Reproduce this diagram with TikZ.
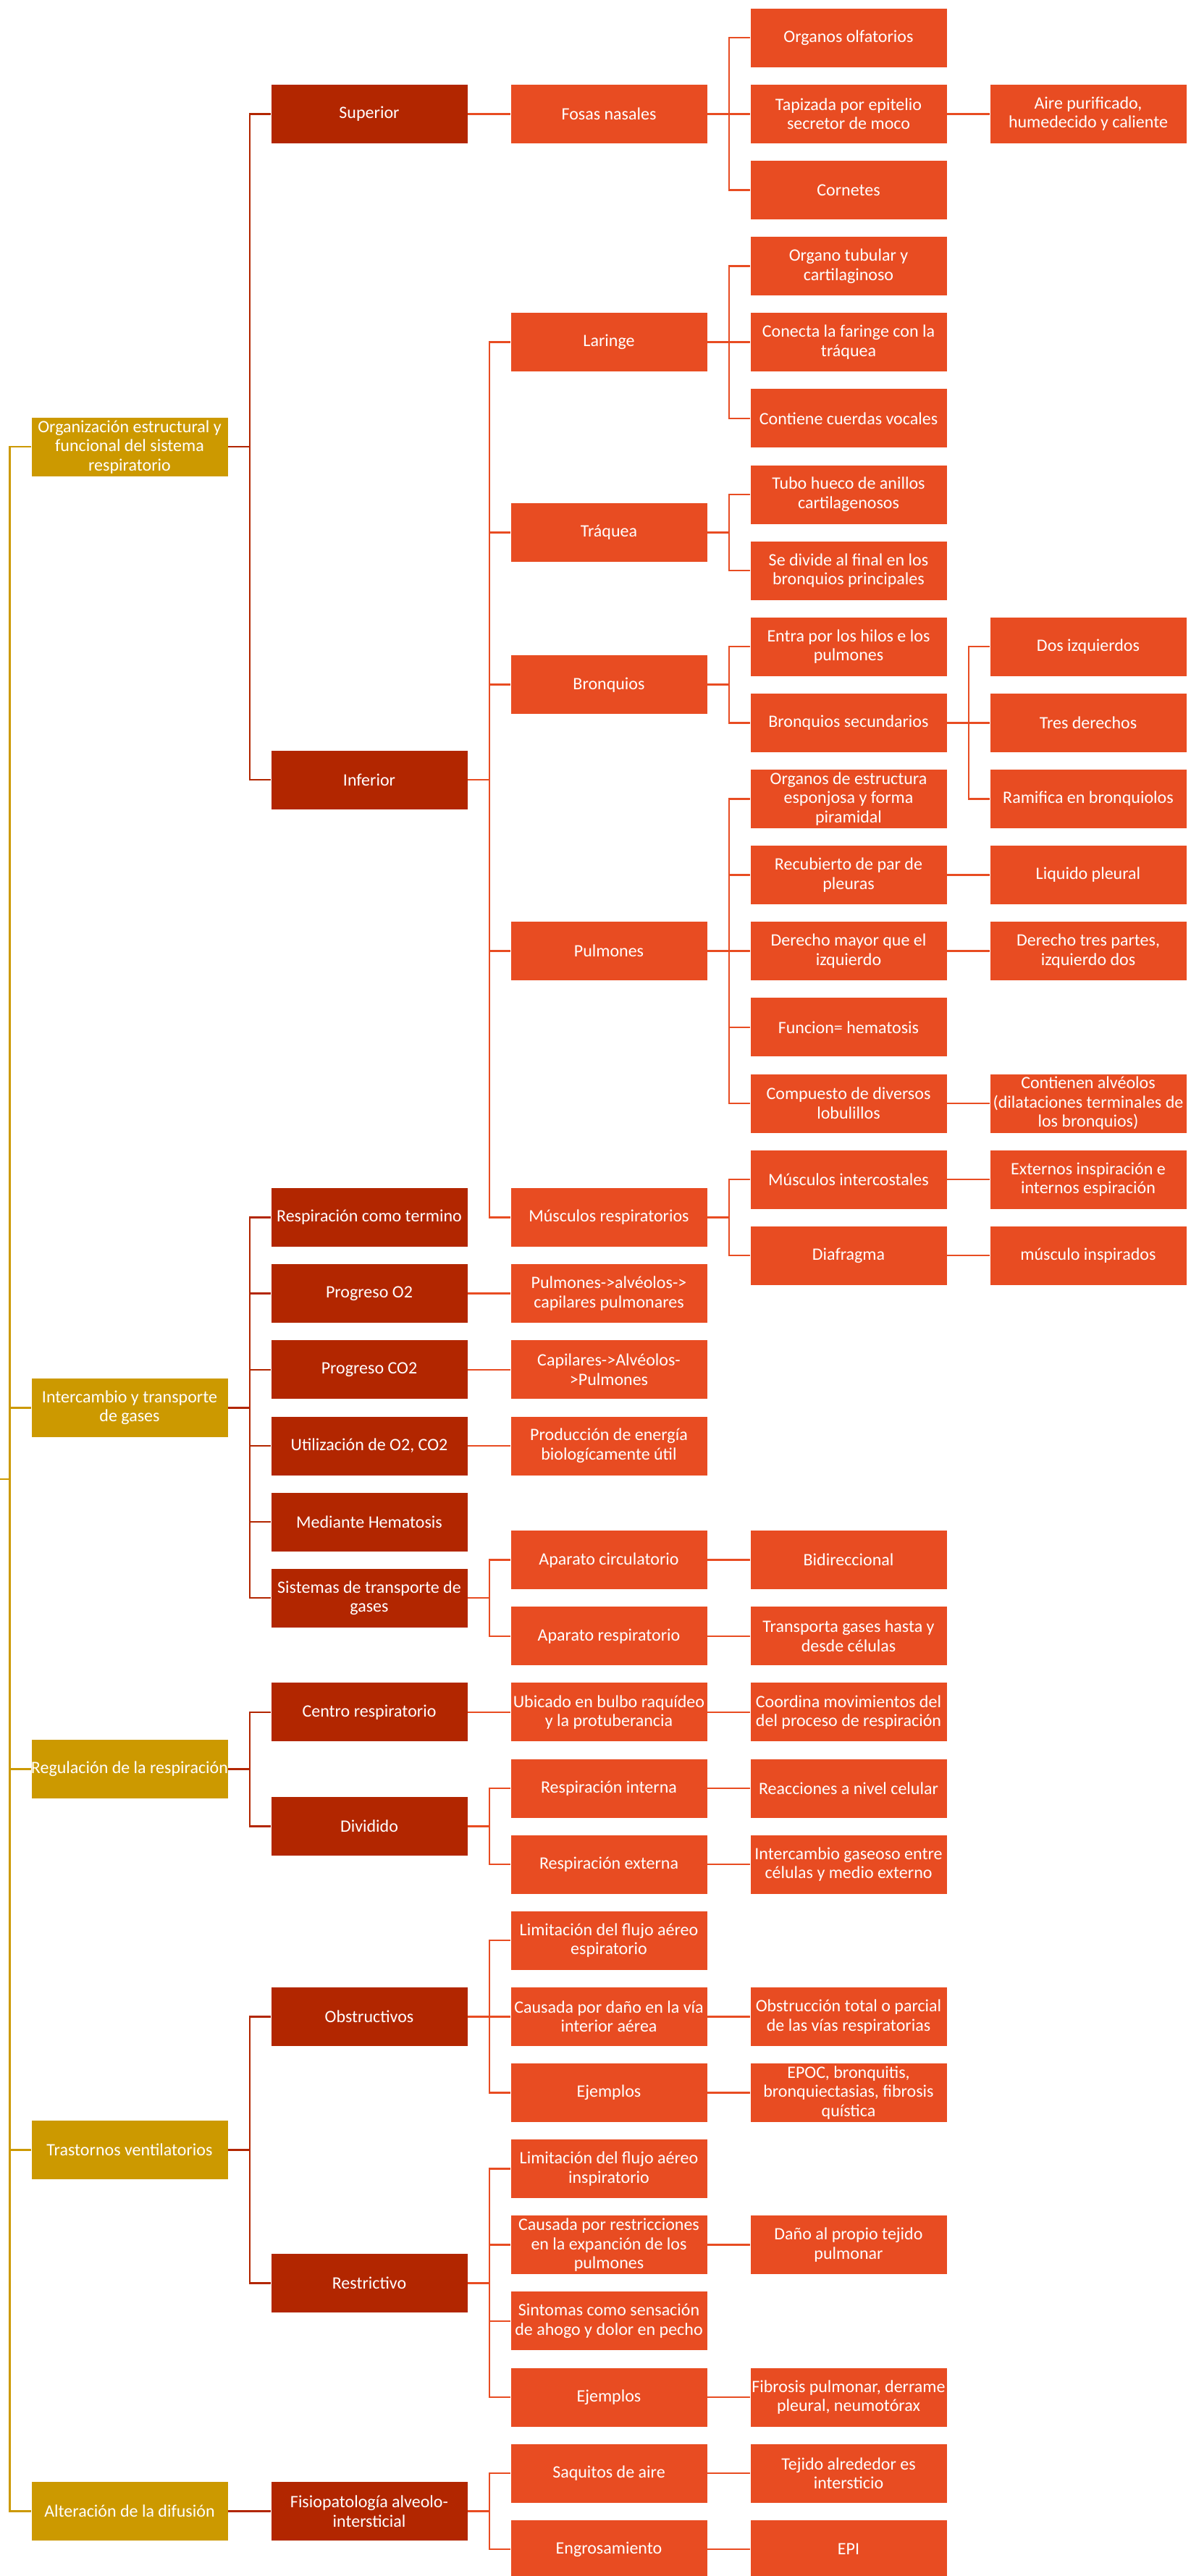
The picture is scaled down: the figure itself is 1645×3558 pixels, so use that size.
\documentclass[tikz,border=0pt]{standalone}
\usepackage{fontspec}
\setmainfont{Carlito}
\definecolor{cgold}{HTML}{CC9900}
\definecolor{cdark}{HTML}{B22600}
\definecolor{corange}{HTML}{E84C22}
\newcommand\rowy[1]{52.2+105.12*#1}
\begin{document}
\begin{tikzpicture}[x=1pt,y=-1pt,
  box/.style={minimum width=272pt, minimum height=82pt, inner sep=0pt, align=center,
    text=white, font=\fontsize{24}{26.5}\selectfont, draw=white, line width=0.8pt},
  gbox/.style={box, fill=cgold},
  dbox/.style={box, fill=cdark},
  obox/.style={box, fill=corange},
  gconn/.style={draw=cgold, line width=2.5pt},
  dconn/.style={draw=cdark, line width=2.5pt},
  oconn/.style={draw=corange, line width=2.5pt}]
\useasboundingbox (0,0) rectangle (1645,3558);
% column 0
\node[gbox] (org)   at (179,\rowy{5.375}) {Organización estructural y\\funcional del sistema\\respiratorio};
\node[gbox] (inter) at (179,\rowy{18}) {Intercambio y transporte\\de gases};
\node[gbox] (regu)  at (179,\rowy{22.75}) {Regulación de la respiración};
\node[gbox] (tras)  at (179,\rowy{27.75}) {Trastornos ventilatorios};
\node[gbox] (alt)   at (179,\rowy{32.5}) {Alteración de la difusión};
% column 1
\node[dbox] (sup)    at (510,\rowy{1}) {Superior};
\node[dbox] (inf)    at (510,\rowy{9.75}) {Inferior};
\node[dbox] (resp)   at (510,\rowy{15.5}) {Respiración como termino};
\node[dbox] (po2)    at (510,\rowy{16.5}) {Progreso O2};
\node[dbox] (pco2)   at (510,\rowy{17.5}) {Progreso CO2};
\node[dbox] (util)   at (510,\rowy{18.5}) {Utilización de O2, CO2};
\node[dbox] (medi)   at (510,\rowy{19.5}) {Mediante Hematosis};
\node[dbox] (sist)   at (510,\rowy{20.5}) {Sistemas de transporte de\\gases};
\node[dbox] (centro) at (510,\rowy{22}) {Centro respiratorio};
\node[dbox] (divi)   at (510,\rowy{23.5}) {Dividido};
\node[dbox] (obst)   at (510,\rowy{26}) {Obstructivos};
\node[dbox] (restr)  at (510,\rowy{29.5}) {Restrictivo};
\node[dbox] (fisio)  at (510,\rowy{32.5}) {Fisiopatología alveolo-\\intersticial};
% column 2
\node[obox] (fosas)   at (841,\rowy{1}) {Fosas nasales};
\node[obox] (lar)     at (841,\rowy{4}) {Laringe};
\node[obox] (traq)    at (841,\rowy{6.5}) {Tráquea};
\node[obox] (bron)    at (841,\rowy{8.5}) {Bronquios};
\node[obox] (pulm)    at (841,\rowy{12}) {Pulmones};
\node[obox] (musc)    at (841,\rowy{15.5}) {Músculos respiratorios};
\node[obox] (pulalv)  at (841,\rowy{16.5}) {Pulmones->alvéolos->\\capilares pulmonares};
\node[obox] (capalv)  at (841,\rowy{17.5}) {Capilares->Alvéolos-\\>Pulmones};
\node[obox] (prod)    at (841,\rowy{18.5}) {Producción de energía\\biologícamente útil};
\node[obox] (acirc)   at (841,\rowy{20}) {Aparato circulatorio};
\node[obox] (aresp)   at (841,\rowy{21}) {Aparato respiratorio};
\node[obox] (ubic)    at (841,\rowy{22}) {Ubicado en bulbo raquídeo\\y la protuberancia};
\node[obox] (rint)    at (841,\rowy{23}) {Respiración interna};
\node[obox] (rext)    at (841,\rowy{24}) {Respiración externa};
\node[obox] (limesp)  at (841,\rowy{25}) {Limitación del flujo aéreo\\espiratorio};
\node[obox] (caudano) at (841,\rowy{26}) {Causada por daño en la vía\\interior aérea};
\node[obox] (ejo)     at (841,\rowy{27}) {Ejemplos};
\node[obox] (liminsp) at (841,\rowy{28}) {Limitación del flujo aéreo\\inspiratorio};
\node[obox] (caures)  at (841,\rowy{29}) {Causada por restricciones\\en la expanción de los\\pulmones};
\node[obox] (sint)    at (841,\rowy{30}) {Sintomas como sensación\\de ahogo y dolor en pecho};
\node[obox] (ejr)     at (841,\rowy{31}) {Ejemplos};
\node[obox] (saq)     at (841,\rowy{32}) {Saquitos de aire};
\node[obox] (engr)    at (841,\rowy{33}) {Engrosamiento};
% column 3
\node[obox] (olf)      at (1172,\rowy{0}) {Organos olfatorios};
\node[obox] (tap)      at (1172,\rowy{1}) {Tapizada por epitelio\\secretor de moco};
\node[obox] (corn)     at (1172,\rowy{2}) {Cornetes};
\node[obox] (otub)     at (1172,\rowy{3}) {Organo tubular y\\cartilaginoso};
\node[obox] (conecta)  at (1172,\rowy{4}) {Conecta la faringe con la\\tráquea};
\node[obox] (contiene) at (1172,\rowy{5}) {Contiene cuerdas vocales};
\node[obox] (tubo)     at (1172,\rowy{6}) {Tubo hueco de anillos\\cartilagenosos};
\node[obox] (sedivide) at (1172,\rowy{7}) {Se divide al final en los\\bronquios principales};
\node[obox] (entra)    at (1172,\rowy{8}) {Entra por los hilos e los\\pulmones};
\node[obox] (bsec)     at (1172,\rowy{9}) {Bronquios secundarios};
\node[obox] (oest)     at (1172,\rowy{10}) {Organos de estructura\\esponjosa y forma\\piramidal};
\node[obox] (recub)    at (1172,\rowy{11}) {Recubierto de par de\\pleuras};
\node[obox] (dermay)   at (1172,\rowy{12}) {Derecho mayor que el\\izquierdo};
\node[obox] (func)     at (1172,\rowy{13}) {Funcion= hematosis};
\node[obox] (comp)     at (1172,\rowy{14}) {Compuesto de diversos\\lobulillos};
\node[obox] (minter)   at (1172,\rowy{15}) {Músculos intercostales};
\node[obox] (diaf)     at (1172,\rowy{16}) {Diafragma};
\node[obox] (bidir)    at (1172,\rowy{20}) {Bidireccional};
\node[obox] (transp)   at (1172,\rowy{21}) {Transporta gases hasta y\\desde células};
\node[obox] (coord)    at (1172,\rowy{22}) {Coordina movimientos del\\del proceso de respiración};
\node[obox] (reac)     at (1172,\rowy{23}) {Reacciones a nivel celular};
\node[obox] (intg)     at (1172,\rowy{24}) {Intercambio gaseoso entre\\células y medio externo};
\node[obox] (obstot)   at (1172,\rowy{26}) {Obstrucción total o parcial\\de las vías respiratorias};
\node[obox] (epoc)     at (1172,\rowy{27}) {EPOC, bronquitis,\\bronquiectasias, fibrosis\\quística};
\node[obox] (dano)     at (1172,\rowy{29}) {Daño al propio tejido\\pulmonar};
\node[obox] (fibr)     at (1172,\rowy{31}) {Fibrosis pulmonar, derrame\\pleural, neumotórax};
\node[obox] (tej)      at (1172,\rowy{32}) {Tejido alrededor es\\intersticio};
\node[obox] (epi)      at (1172,\rowy{33}) {EPI};
% column 4
\node[obox] (aire)    at (1503,\rowy{1}) {Aire purificado,\\humedecido y caliente};
\node[obox] (dos)     at (1503,\rowy{8}) {Dos izquierdos};
\node[obox] (tres)    at (1503,\rowy{9}) {Tres derechos};
\node[obox] (ramif)   at (1503,\rowy{10}) {Ramifica en bronquiolos};
\node[obox] (liq)     at (1503,\rowy{11}) {Liquido pleural};
\node[obox] (dertres) at (1503,\rowy{12}) {Derecho tres partes,\\izquierdo dos};
\node[obox] (contal)  at (1503,\rowy{14}) {Contienen alvéolos\\(dilataciones terminales de\\los bronquios)};
\node[obox] (ext)     at (1503,\rowy{15}) {Externos inspiración e\\internos espiración};
\node[obox] (musinsp) at (1503,\rowy{16}) {músculo inspirados};
% connectors
\coordinate (root) at (0,\rowy{18.9375});
\foreach \c in {org,inter,regu,tras,alt}
  \draw[gconn] (root) -- +(13.3,0) |- (\c.west);
\foreach \p/\c in {org/sup,org/inf,inter/resp,inter/po2,inter/pco2,inter/util,inter/medi,inter/sist,
  regu/centro,regu/divi,tras/obst,tras/restr,alt/fisio}
  \draw[dconn] (\p.east) -- +(29.5,0) |- (\c.west);
\foreach \p/\c in {sup/fosas,inf/lar,inf/traq,inf/bron,inf/pulm,inf/musc,po2/pulalv,pco2/capalv,
  util/prod,sist/acirc,sist/aresp,centro/ubic,divi/rint,divi/rext,obst/limesp,obst/caudano,obst/ejo,
  restr/liminsp,restr/caures,restr/sint,restr/ejr,fisio/saq,fisio/engr,
  fosas/olf,fosas/tap,fosas/corn,lar/otub,lar/conecta,lar/contiene,traq/tubo,traq/sedivide,
  bron/entra,bron/bsec,pulm/oest,pulm/recub,pulm/dermay,pulm/func,pulm/comp,musc/minter,musc/diaf,
  acirc/bidir,aresp/transp,ubic/coord,rint/reac,rext/intg,caudano/obstot,ejo/epoc,caures/dano,
  ejr/fibr,saq/tej,engr/epi,
  tap/aire,bsec/dos,bsec/tres,bsec/ramif,recub/liq,dermay/dertres,comp/contal,minter/ext,diaf/musinsp}
  \draw[oconn] (\p.east) -- +(29.5,0) |- (\c.west);
\end{tikzpicture}
\end{document}
